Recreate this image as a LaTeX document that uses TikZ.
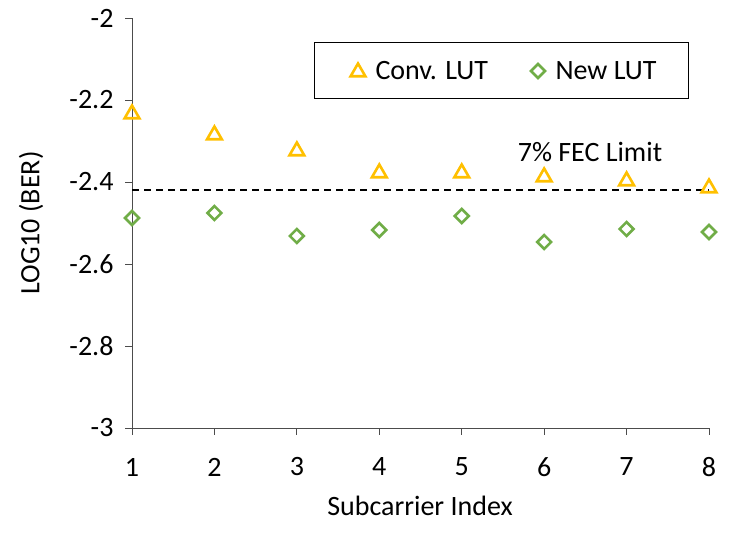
\documentclass[tikz,border=0pt]{standalone}
\usepackage{fontspec}
\setmainfont{Carlito}
\usetikzlibrary{shapes.geometric}
\definecolor{convcol}{HTML}{FFC000}
\definecolor{newcol}{HTML}{70AD47}
\tikzset{
  conv/.style={regular polygon, regular polygon sides=3, draw=convcol, line width=2.6pt, inner sep=0pt, minimum size=17pt},
  newlut/.style={diamond, draw=newcol, line width=2.6pt, inner sep=0pt, minimum size=15pt},
  lbl/.style={font=\fontsize{28}{32}\selectfont}
}
\begin{document}
\begin{tikzpicture}[x=1pt,y=-1pt]
  \useasboundingbox[fill=white] (0,0) rectangle (736,536);
  % axes
  \draw[black!70, line width=1pt] (132,18) -- (132,428) -- (709,428);
  \foreach \v/\y in {-2/18,-2.2/100,-2.4/182,-2.6/264,-2.8/346,-3/428}{
    \draw[black!70, line width=1pt] (125,\y) -- (132,\y);
    \node[lbl, anchor=east] at (117,\y) {\v};
  }
  \foreach \i in {1,...,8}{
    \pgfmathsetmacro{\xx}{132+(\i-1)*577/7}
    \draw[black!70, line width=1pt] (\xx,428) -- (\xx,435);
    \node[lbl] at (\xx,467) {\i};
  }
  \node[lbl] at (420,506) {Subcarrier Index};
  \node[lbl, rotate=90] at (31,223) {LOG10 (BER)};
  % FEC limit
  \draw[black, dashed, line width=2pt, dash pattern=on 7pt off 5pt] (132,190) -- (709,190);
  \node[lbl] at (590,152) {7\% FEC Limit};
  % data
  \foreach \i/\y in {1/113,2/134,3/150,4/172,5/172,6/176,7/180,8/187}{
    \node[conv] (c\i) at ({132+(\i-1)*577/7},\y+1) {};
  }
  \foreach \i/\y in {1/218,2/213,3/236,4/230,5/216,6/242,7/229,8/232}{
    \node[newlut] (n\i) at ({132+(\i-1)*577/7},\y) {};
  }
  % legend
  \draw[black, line width=1pt] (314,42) rectangle (688,98);
  \node[conv] (lc) at (358,72) {};
  \node[lbl, anchor=west] at (372,71) {Conv. LUT};
  \node[newlut] (ln) at (538,71) {};
  \node[lbl, anchor=west] at (552,71) {New LUT};
\end{tikzpicture}
\end{document}
